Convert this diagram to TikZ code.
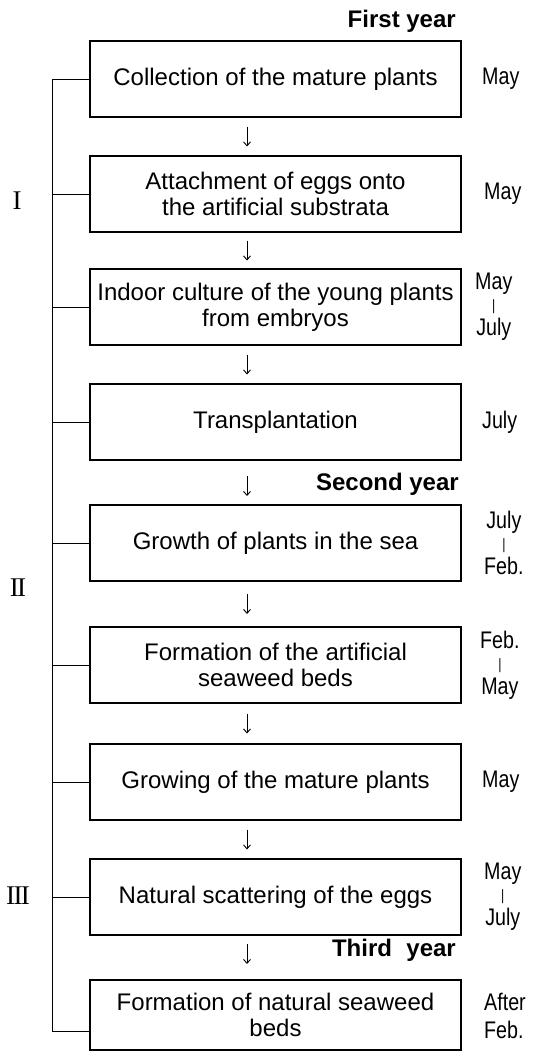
\documentclass[tikz,border=0pt]{standalone}
\usepackage{fontspec}
\setmainfont{Liberation Sans}
\newfontfamily\romanfont{Liberation Serif}
\newfontfamily\monthfont[FakeStretch=0.82]{Liberation Sans}
\usetikzlibrary{arrows.meta,calc}
\newcommand{\mbar}{\raisebox{2pt}{\fontsize{15}{15}\selectfont|}}
\begin{document}
\begin{tikzpicture}[x=1pt,y=-1pt,
  box/.style={draw, line width=1.1pt, minimum width=371pt, minimum height=76pt,
    inner sep=0pt, align=center, font=\fontsize{24}{26}\selectfont},
  tree/.style={line width=1pt},
  arr/.style={line width=0.9pt, -{Straight Barb[length=4pt,width=7pt]}},
  yearlbl/.style={anchor=base east, inner sep=0pt, font=\fontsize{24}{26}\selectfont\bfseries},
  month/.style={anchor=west, inner sep=0pt, align=center, font=\monthfont\fontsize{24}{23}\selectfont},
  roman/.style={inner sep=0pt, font=\romanfont\fontsize{27}{27}\selectfont}]
\useasboundingbox (0,0) rectangle (533,1055);

% boxes
\node[box] (b1) at (275.5,79)  {Collection of the mature plants};
\node[box] (b2) at (275.5,194) {Attachment of eggs onto\\the artificial substrata};
\node[box] (b3) at (275.5,307) {Indoor culture of the young plants\\from embryos};
\node[box] (b4) at (275.5,422) {Transplantation};
\node[box] (b5) at (275.5,543) {Growth of plants in the sea};
\node[box] (b6) at (275.5,665) {Formation of the artificial\\seaweed beds};
\node[box] (b7) at (275.5,782) {Growing of the mature plants};
\node[box] (b8) at (275.5,897) {Natural scattering of the eggs};
\node[box, minimum height=70pt] (b9) at (275.5,1015) {Formation of natural seaweed\\beds};

% year labels
\node[yearlbl] (y1) at (456,27)  {First year};
\node[yearlbl] (y2) at (459,490) {Second year};
\node[yearlbl] (y3) at (456,956) {Third\hspace{0.6em}year};

% months
\node[month] (m1) at (482,79)  {May};
\node[month] (m2) at (484,194) {May};
\node[month] (m3) at (475,307) {May\\\mbar\\July};
\node[month] (m4) at (482,422) {July};
\node[month] (m5) at (484,543) {July\\\mbar\\Feb.};
\node[month] (m6) at (480,665) {Feb.\\\mbar\\May};
\node[month] (m7) at (482,782) {May};
\node[month] (m8) at (484,897) {May\\\mbar\\July};
\node[month, align=left, font=\monthfont\fontsize{24}{28}\selectfont] (m9) at (484,1016) {After\\Feb.};

% roman numerals
\node[roman] (r1) at (17,201) {I};
\node[roman] (r2) at (18,588) {I\kern-1.6pt I};
\node[roman] (r3) at (18,896) {I\kern-1.6pt I\kern-1.6pt I};

% tree on the left
\coordinate (sp) at (52,0);
\coordinate (t9) at ([yshift=-16pt]b9.west);
\draw[tree] (b1.west -| sp) -- (t9 -| sp) -- (t9);
\foreach \i in {1,...,8} {
  \draw[tree] (b\i.west) -- (b\i.west -| sp);
}

% arrows between boxes
\foreach \a/\b/\o in {b1/b2/0, b2/b3/0, b3/b4/0, b4/b5/-3.5, b5/b6/0, b6/b7/0, b7/b8/0, b8/b9/3.5} {
  \coordinate (mid) at ($(\a.south)!0.5!(\b.north)$);
  \draw[arr] ([xshift=-28.5pt, yshift={\o pt+10pt}]mid) -- ([xshift=-28.5pt, yshift={\o pt-10pt}]mid);
}
\end{tikzpicture}
\end{document}
